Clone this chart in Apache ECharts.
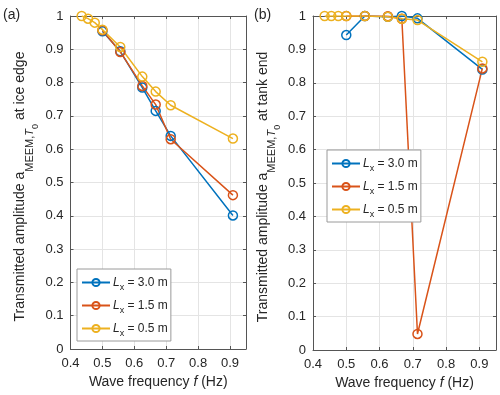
<!DOCTYPE html>
<html>
<head>
<meta charset="utf-8">
<script src="https://cdn.jsdelivr.net/npm/echarts@6/dist/echarts.min.js"></script>
<style>
  html, body { margin: 0; padding: 0; background: #fff; }
  #chart { width: 500px; height: 395px; }
</style>
</head>
<body>
<div id="chart"></div>
<script>
// wave frequencies (Hz)
var freqAll = [0.435, 0.455, 0.476, 0.5, 0.556, 0.625, 0.667, 0.714, 0.909];
var freqMain = [0.5, 0.556, 0.625, 0.667, 0.714, 0.909];

// (a) at ice edge
var edge30 = [0.954, 0.894, 0.785, 0.715, 0.640, 0.401];
var edge15 = [0.957, 0.892, 0.790, 0.734, 0.630, 0.462];
var edge05 = [1.0, 0.992, 0.980, 0.959, 0.907, 0.818, 0.773, 0.732, 0.632];

// (b) at tank end
var end30 = [0.943, 1.0, 0.998, 1.0, 0.993, 0.840];
var end15 = [1.0, 1.0, 0.999, 0.992, 0.048, 0.843];
var end05 = [1.0, 1.0, 1.0, 1.0, 1.0, 0.998, 0.992, 0.988, 0.863];

var names = ["3.0", "1.5", "0.5"];
var colors = ["#0072BD", "#D95319", "#EDB120"];

var font = "Liberation Sans";
var ink = "#262626";

function pairs(xs, ys) {
  return xs.map(function (x, i) { return [x, ys[i]]; });
}

function mkSeries(name, color, xs, ys, idx) {
  return {
    name: name,
    type: "line",
    xAxisIndex: idx,
    yAxisIndex: idx,
    data: pairs(xs, ys),
    symbol: "circle",
    symbolSize: 9,
    color: color,
    lineStyle: { color: color, width: 1.5 },
    itemStyle: { color: "rgba(255,255,255,0)", borderColor: color, borderWidth: 1.5 },
    emphasis: { disabled: true },
    animation: false
  };
}

function yName(tail) {
  return "{m|Transmitted amplitude a}{s|MEEM,}{si|T}{ss|0}{m| " + tail + "}";
}

var nameRich = {
  m: { fontSize: 14, fontFamily: font, color: ink, lineHeight: 16, verticalAlign: "middle" },
  s: { fontSize: 11, fontFamily: font, color: ink, lineHeight: 16, verticalAlign: "middle", padding: [18, 0, 0, 0] },
  si: { fontSize: 11, fontFamily: font, fontStyle: "italic", color: ink, lineHeight: 16, verticalAlign: "middle", padding: [18, 0, 0, 0] },
  ss: { fontSize: 9, fontFamily: font, color: ink, lineHeight: 16, verticalAlign: "middle", padding: [30, 0, 0, 0] },
  i: { fontSize: 14, fontFamily: font, fontStyle: "italic", color: ink, lineHeight: 16, verticalAlign: "middle" }
};

function tickFmt(v) {
  if (Math.abs(v - 0.95) < 1e-6) return "";
  return String(Math.round(v * 10) / 10);
}

function xAx(grid, bottom) {
  return {
    type: "value",
    gridIndex: grid,
    position: bottom ? "bottom" : "top",
    min: 0.4, max: 0.95, interval: 0.1,
    name: bottom ? "{m|Wave frequency }{i|f}{m| (Hz)}" : "",
    nameLocation: "middle",
    nameGap: 24,
    nameTextStyle: { rich: nameRich },
    axisLine: { show: true, onZero: false, lineStyle: { color: "#555", width: 1 } },
    axisTick: { show: true, inside: true, length: 3, lineStyle: { color: "#555" } },
    axisLabel: { show: bottom, formatter: tickFmt, fontFamily: font, fontSize: 13, color: ink, margin: 8, showMaxLabel: false },
    splitLine: { show: bottom, lineStyle: { color: "#e4e4e4", width: 1 } }
  };
}

function yAx(grid, left, tail) {
  return {
    type: "value",
    gridIndex: grid,
    position: left ? "left" : "right",
    min: 0, max: 1, interval: 0.1,
    name: left ? yName(tail) : "",
    nameLocation: "middle",
    nameRotate: 90,
    nameGap: 42,
    nameTextStyle: { rich: nameRich, padding: [0, 8, 0, 0] },
    axisLine: { show: true, onZero: false, lineStyle: { color: "#555", width: 1 } },
    axisTick: { show: true, inside: true, length: 3, lineStyle: { color: "#555" } },
    axisLabel: { show: left, formatter: tickFmt, fontFamily: font, fontSize: 13, color: ink, margin: 7 },
    splitLine: { show: left, lineStyle: { color: "#e4e4e4", width: 1 } }
  };
}

var legendRich = {
  i: { fontSize: 12, fontFamily: font, fontStyle: "italic", color: ink, lineHeight: 15, verticalAlign: "middle" },
  s: { fontSize: 9, fontFamily: font, color: ink, lineHeight: 15, verticalAlign: "middle", padding: [10, 0, 0, 0] },
  t: { fontSize: 12, fontFamily: font, color: ink, lineHeight: 15, verticalAlign: "middle" }
};

function mkLegend(left, top) {
  return {
    orient: "vertical",
    left: left,
    top: top,
    data: names,
    backgroundColor: "#fff",
    borderColor: "#9a9a9a",
    borderWidth: 1,
    padding: [4, 3, 3, 4],
    itemGap: 4,
    itemWidth: 28,
    itemHeight: 9,
    selectedMode: false,
    formatter: function (n) { return "{i|L}{s|x}{t| = " + n + " m}"; },
    textStyle: { rich: legendRich, padding: [0, 0, 0, -2] }
  };
}

var chart = echarts.init(document.getElementById("chart"), null, { renderer: "canvas" });

chart.setOption({
  backgroundColor: "#fff",
  animation: false,
  grid: [
    { left: 64, right: 254, top: 16, bottom: 46 },
    { left: 313, right: 4, top: 16, bottom: 45 }
  ],
  xAxis: [xAx(0, true), xAx(1, true), xAx(0, false), xAx(1, false)],
  yAxis: [yAx(0, true, "at ice edge"), yAx(1, true, "at tank end"), yAx(0, false, ""), yAx(1, false, "")],
  legend: [mkLegend(77, 269), mkLegend(327, 150)],
  graphic: [
    { type: "text", left: 3, top: 8, style: { text: "(a)", font: "14px " + font, fill: ink } },
    { type: "text", left: 254, top: 8, style: { text: "(b)", font: "14px " + font, fill: ink } }
  ],
  series: [
    mkSeries(names[0], colors[0], freqMain, edge30, 0),
    mkSeries(names[1], colors[1], freqMain, edge15, 0),
    mkSeries(names[2], colors[2], freqAll, edge05, 0),
    mkSeries(names[0], colors[0], freqMain, end30, 1),
    mkSeries(names[1], colors[1], freqMain, end15, 1),
    mkSeries(names[2], colors[2], freqAll, end05, 1)
  ]
});
</script>
</body>
</html>
